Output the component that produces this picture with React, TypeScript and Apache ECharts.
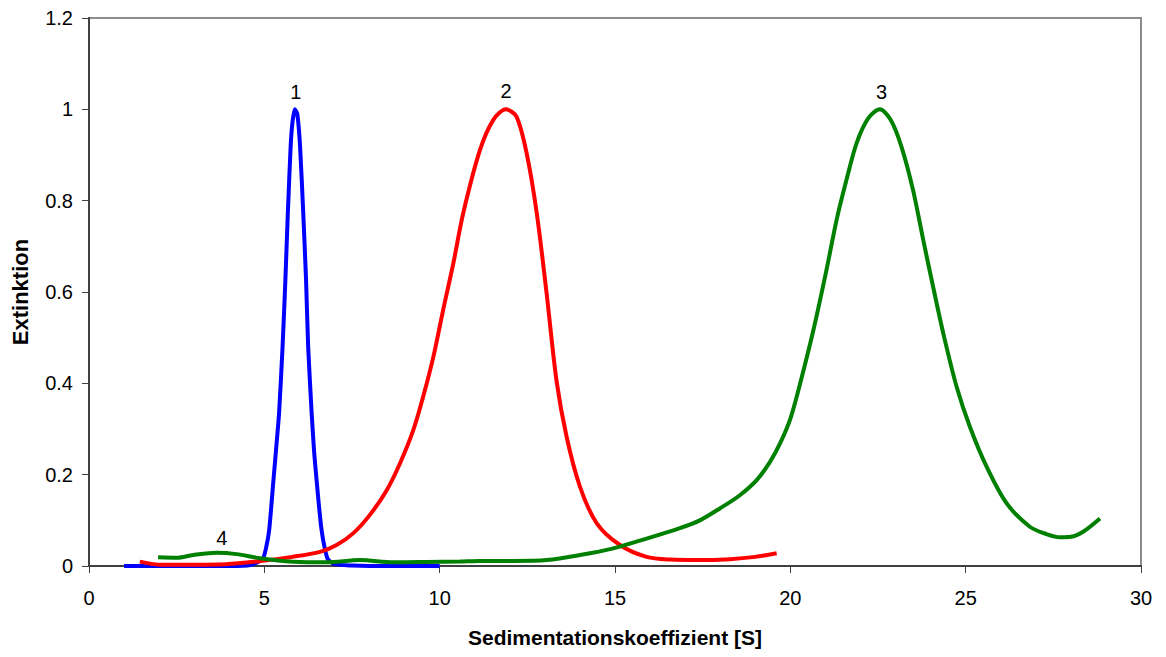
import React, { useEffect, useRef } from "react";
import * as echarts from "echarts";

// Series 1 (blue)
const blueX = [1, 2, 3, 4, 4.6, 4.95, 5.05, 5.14, 5.26, 5.34, 5.42, 5.52, 5.6, 5.67, 5.75, 5.8, 5.87, 5.94, 6.02, 6.11, 6.19, 6.25, 6.35, 6.42, 6.49, 6.56, 6.63, 6.72, 6.81, 7.0, 7.5, 8, 9, 10];
const blueY = [0, 0, 0, 0, 0.002, 0.015, 0.04, 0.08, 0.188, 0.26, 0.334, 0.48, 0.626, 0.772, 0.918, 0.97, 1.0, 0.99, 0.918, 0.772, 0.626, 0.48, 0.334, 0.25, 0.188, 0.13, 0.08, 0.04, 0.015, 0.004, 0.001, 0, 0, 0];

// Series 2 (red)
const redX = [1.45, 2.0, 3.0, 3.9, 4.9, 5.8, 6.59, 7.06, 7.54, 8.01, 8.49, 8.87, 9.25, 9.53, 9.82, 10.1, 10.39, 10.67, 11.15, 11.53, 11.89, 12.19, 12.48, 12.77, 13.05, 13.33, 13.62, 14.0, 14.48, 15.14, 15.9, 16.6, 17.33, 18.28, 19.0, 19.61];
const redY = [0.0095, 0.003, 0.003, 0.004, 0.011, 0.02, 0.031, 0.046, 0.072, 0.112, 0.166, 0.225, 0.298, 0.371, 0.458, 0.561, 0.663, 0.772, 0.911, 0.977, 1.0, 0.984, 0.904, 0.772, 0.597, 0.407, 0.283, 0.174, 0.0935, 0.046, 0.02, 0.014, 0.013, 0.015, 0.02, 0.028];

// Series 3 (green)
const greenX = [1.97, 2.5, 2.97, 3.64, 4.21, 4.88, 5.82, 6.78, 7.73, 8.68, 9.63, 10.58, 11.15, 12.1, 13.05, 14.0, 14.95, 15.9, 16.85, 17.42, 17.99, 18.56, 19.04, 19.42, 19.71, 19.99, 20.23, 20.65, 21.03, 21.32, 21.6, 21.89, 22.22, 22.55, 22.86, 23.17, 23.5, 23.79, 24.07, 24.36, 24.74, 25.12, 25.6, 26.17, 26.83, 27.3, 27.69, 28.0, 28.35, 28.83];
const greenY = [0.019, 0.018, 0.024, 0.029, 0.026, 0.017, 0.0095, 0.008, 0.013, 0.008, 0.0088, 0.01, 0.011, 0.011, 0.013, 0.024, 0.0387, 0.06, 0.083, 0.1, 0.126, 0.155, 0.188, 0.228, 0.269, 0.32, 0.385, 0.514, 0.648, 0.758, 0.845, 0.926, 0.98, 1.0, 0.977, 0.918, 0.823, 0.714, 0.612, 0.51, 0.393, 0.305, 0.217, 0.137, 0.086, 0.07, 0.063, 0.064, 0.075, 0.104];

// Peak labels
const labelText = ["1", "2", "3", "4"];
const labelX = [5.9, 11.89, 22.6, 3.79];
const labelY = [1.037, 1.04, 1.037, 0.062];

const FONT = "'Liberation Sans', Arial, sans-serif";

const zip = (xs: number[], ys: number[]) => xs.map((x, i) => [x, ys[i]]);

export default function App() {
  const ref = useRef<HTMLDivElement>(null);
  useEffect(() => {
    if (!ref.current) return;
    const chart = echarts.init(ref.current, undefined, { renderer: "svg" });
    const axisColor = "#404040";
    chart.setOption({
      animation: false,
      backgroundColor: "#ffffff",
      grid: {
        left: 89,
        right: 25,
        top: 18,
        bottom: 91,
        show: true,
        borderColor: "#8c8c8c",
        borderWidth: 2,
      },
      xAxis: {
        type: "value",
        min: 0,
        max: 30,
        interval: 5,
        name: "Sedimentationskoeffizient [S]",
        nameLocation: "middle",
        nameGap: 61,
        nameTextStyle: { fontFamily: FONT, fontSize: 21, fontWeight: "bold", color: "#000", verticalAlign: "top" },
        axisLine: { show: true, lineStyle: { color: axisColor, width: 2 } },
        axisTick: { show: true, length: 7, lineStyle: { color: axisColor, width: 1 } },
        axisLabel: { fontFamily: FONT, fontSize: 20, color: "#000", margin: 22 },
        splitLine: { show: false },
      },
      yAxis: {
        type: "value",
        min: 0,
        max: 1.2,
        interval: 0.2,
        name: "Extinktion",
        nameLocation: "middle",
        nameGap: 58,
        nameTextStyle: { fontFamily: FONT, fontSize: 22, fontWeight: "bold", color: "#000" },
        axisLine: { show: true, lineStyle: { color: axisColor, width: 2 } },
        axisTick: { show: true, length: 7, lineStyle: { color: axisColor, width: 1 } },
        axisLabel: { fontFamily: FONT, fontSize: 20, color: "#000", margin: 16 },
        splitLine: { show: false },
      },
      series: [
        {
          type: "line",
          data: zip(blueX, blueY),
          showSymbol: false,
          smooth: 0.2,
          lineStyle: { color: "#0000ff", width: 4 },
          itemStyle: { color: "#0000ff" },
          z: 3,
        },
        {
          type: "line",
          data: zip(redX, redY),
          showSymbol: false,
          smooth: 0.3,
          lineStyle: { color: "#ff0000", width: 4 },
          itemStyle: { color: "#ff0000" },
          z: 4,
        },
        {
          type: "line",
          data: zip(greenX, greenY),
          showSymbol: false,
          smooth: 0.3,
          lineStyle: { color: "#008000", width: 4 },
          itemStyle: { color: "#008000" },
          z: 5,
        },
        {
          type: "scatter",
          data: zip(labelX, labelY),
          symbolSize: 1,
          itemStyle: { color: "rgba(0,0,0,0)" },
          silent: true,
          label: {
            show: true,
            position: "inside",
            formatter: (p: any) => labelText[p.dataIndex],
            fontFamily: FONT,
            fontSize: 20,
            color: "#000000",
            textBorderWidth: 0,
            opacity: 1,
          },
          z: 10,
        },
      ],
    });
    return () => chart.dispose();
  }, []);
  return (
    <div
      ref={ref}
      style={{ position: "absolute", left: 0, top: 0, width: 1166, height: 657 }}
    />
  );
}
